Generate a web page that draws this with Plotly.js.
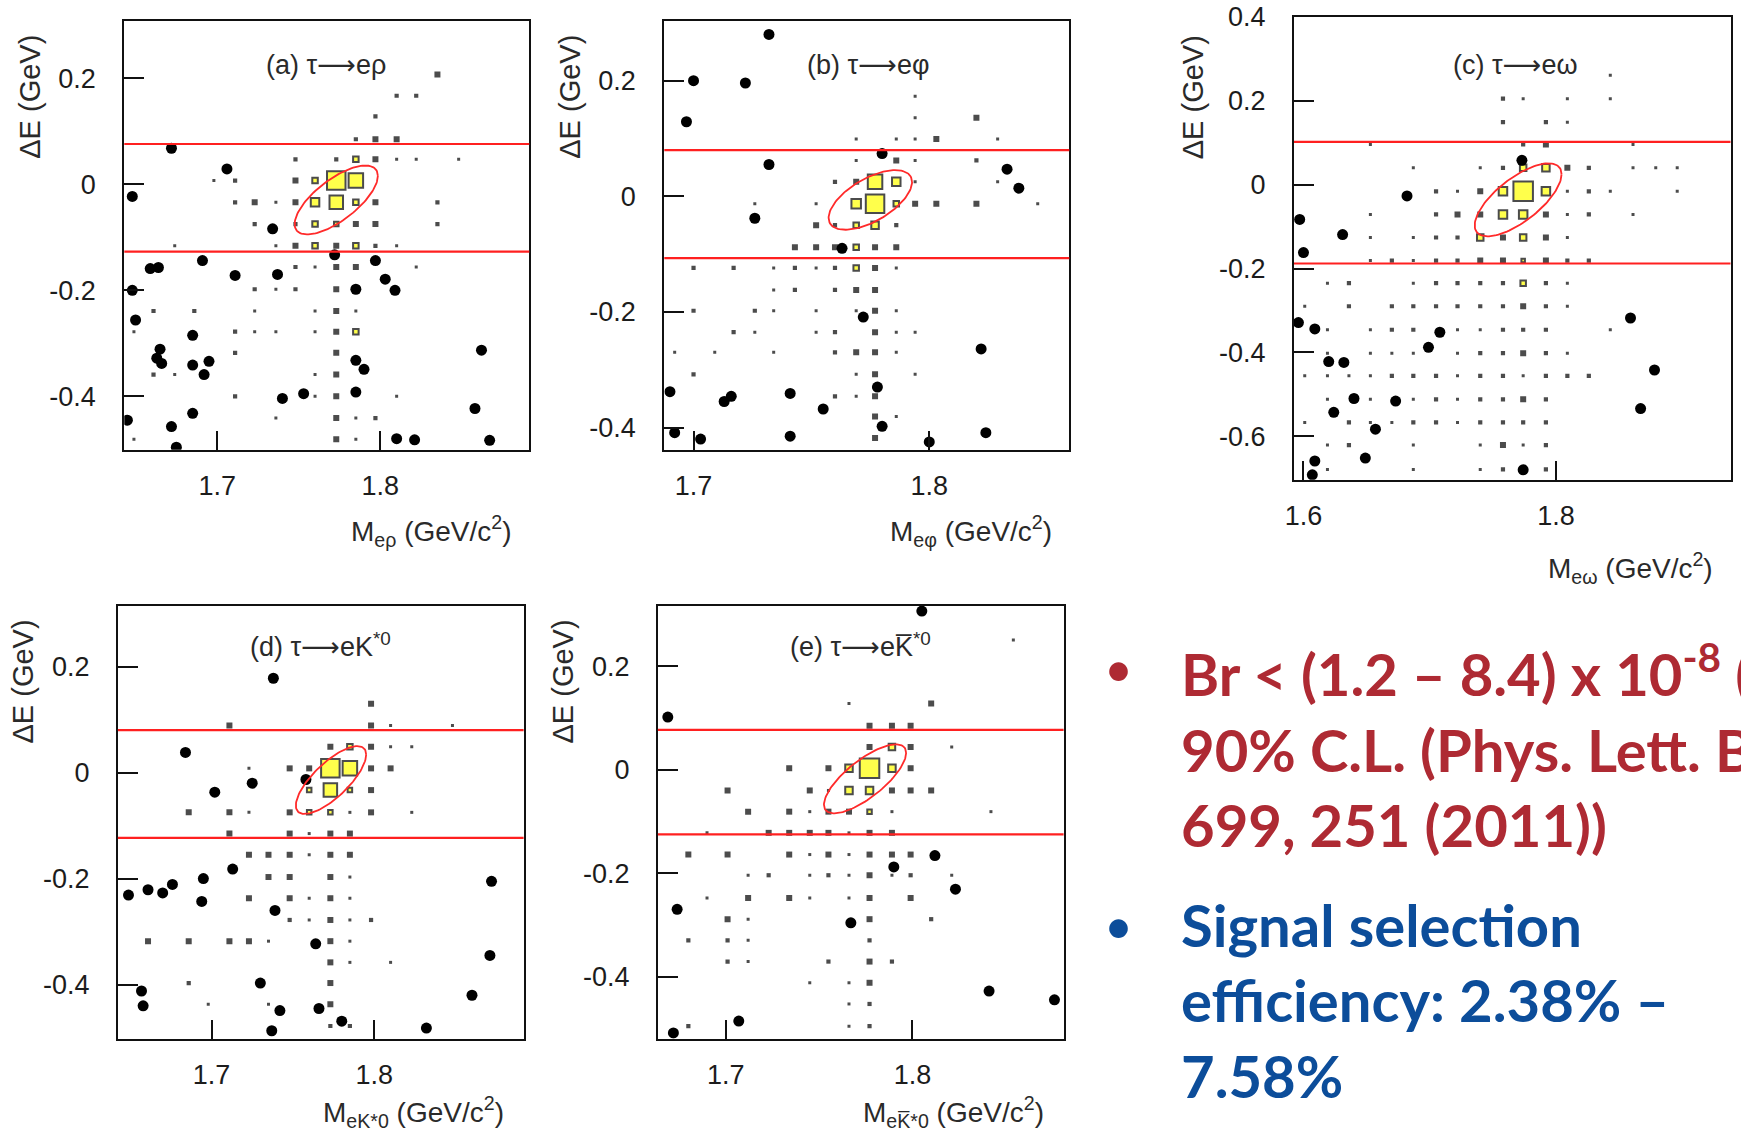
<!DOCTYPE html>
<html><head><meta charset="utf-8">
<script src="https://cdn.plot.ly/plotly-3.0.1.min.js"></script>
<style>html,body{margin:0;padding:0;background:#fff;} #chart{width:1741px;height:1134px;}</style>
</head><body><div id="chart"></div>
<script>
// ---------------- DATA ----------------
const ARW = '<span style="font-family:DejaVu Sans">⟶</span>';
const panelTitles = ['(a) τ' + ARW + 'eρ', '(b) τ' + ARW + 'eφ', '(c) τ' + ARW + 'eω', '(d) τ' + ARW + 'eK<sup>*0</sup>', '(e) τ' + ARW + 'eK\u0305<sup>*0</sup>'];
const xTitles = ['M<sub>eρ</sub> (GeV/c<sup>2</sup>)', 'M<sub>eφ</sub> (GeV/c<sup>2</sup>)', 'M<sub>eω</sub> (GeV/c<sup>2</sup>)',
                 'M<sub>eK*0</sub> (GeV/c<sup>2</sup>)', 'M<sub>eK\u0305*0</sub> (GeV/c<sup>2</sup>)'];
const yTitle = 'ΔE (GeV)';
const xTickVals = [[1.7, 1.8], [1.7, 1.8], [1.6, 1.8], [1.7, 1.8], [1.7, 1.8]];
const yTickVals = [[0.2, 0, -0.2, -0.4], [0.2, 0, -0.2, -0.4], [0.4, 0.2, 0, -0.2, -0.4, -0.6], [0.2, 0, -0.2, -0.4], [0.2, 0, -0.2, -0.4]];
const yTickText = [['0.2', '0', '-0.2', '-0.4'], ['0.2', '0', '-0.2', '-0.4'], ['0.4', '0.2', '0', '-0.2', '-0.4', '-0.6'], ['0.2', '0', '-0.2', '-0.4'], ['0.2', '0', '-0.2', '-0.4']];
const xRanges = [[1.6431, 1.8913], [1.6876, 1.8594], [1.5925, 1.9382], [1.6425, 1.8917], [1.6637, 1.8809]];
const yRanges = [[-0.5007, 0.3086], [-0.4384, 0.3038], [-0.7036, 0.4], [-0.502, 0.3147], [-0.5202, 0.3172]];

// signal-region cuts in ΔE (GeV)
const cutUpper = [0.076, 0.080, 0.102, 0.080, 0.077];
const cutLower = [-0.127, -0.107, -0.188, -0.123, -0.125];

// signal ellipses: centre, half-widths (GeV) and correlation
const ellCx = [1.773, 1.775, 1.770, 1.7734, 1.7746];
const ellCy = [-0.0296, -0.0063, -0.0362, -0.014, -0.0175];
const ellSx = [0.0255, 0.0177, 0.0344, 0.0216, 0.022];
const ellSy = [0.065, 0.0516, 0.0871, 0.064, 0.0667];
const ellRho = [0.70, 0.60, 0.70, 0.75, 0.75];

// background MC boxes [M, ΔE, content class 1..3]
const bgA = [[1.835,0.207,3],[1.810,0.167,2],[1.822,0.167,2],[1.797,0.128,2],[1.785,0.085,2],[1.797,0.085,3],[1.810,0.085,3],
[1.748,0.047,2],[1.773,0.047,2],[1.797,0.047,3],[1.810,0.047,1],[1.822,0.047,1],[1.848,0.047,1],
[1.698,0.007,1],[1.711,0.007,2],[1.748,0.007,3],
[1.711,-0.034,2],[1.723,-0.034,3],[1.736,-0.034,1],[1.748,-0.034,3],[1.797,-0.034,3],[1.835,-0.034,2],
[1.723,-0.075,2],[1.748,-0.075,2],[1.785,-0.075,3],[1.797,-0.075,3],[1.835,-0.075,2],
[1.674,-0.116,1],[1.736,-0.116,1],[1.748,-0.116,3],[1.773,-0.116,3],[1.797,-0.116,2],[1.810,-0.116,1],
[1.748,-0.156,2],[1.760,-0.156,1],[1.773,-0.156,3],[1.785,-0.156,3],[1.822,-0.156,1],
[1.723,-0.198,2],[1.736,-0.198,1],[1.748,-0.198,2],[1.773,-0.198,3],
[1.661,-0.239,2],[1.686,-0.239,2],[1.723,-0.239,1],[1.760,-0.239,1],[1.773,-0.239,3],[1.785,-0.239,1],
[1.649,-0.278,1],[1.711,-0.278,2],[1.723,-0.278,1],[1.736,-0.278,1],[1.760,-0.278,1],[1.773,-0.278,3],
[1.711,-0.318,2],[1.773,-0.318,3],
[1.661,-0.359,2],[1.674,-0.359,1],[1.760,-0.359,1],[1.773,-0.359,3],
[1.711,-0.400,2],[1.760,-0.400,1],[1.773,-0.400,3],[1.810,-0.400,1],
[1.736,-0.441,1],[1.773,-0.441,3],[1.785,-0.441,1],[1.797,-0.441,2],
[1.649,-0.481,1],[1.773,-0.481,3],[1.785,-0.481,1]];
const bgB = [[1.794,0.173,1],[1.794,0.136,1],[1.820,0.136,3],
[1.769,0.099,1],[1.786,0.099,1],[1.794,0.099,1],[1.803,0.099,3],[1.829,0.099,1],
[1.769,0.062,1],[1.786,0.062,3],[1.794,0.062,1],[1.820,0.062,2],
[1.760,0.025,2],[1.769,0.025,3],[1.794,0.025,1],[1.829,0.025,1],
[1.726,-0.013,1],[1.752,-0.013,1],[1.794,-0.013,3],[1.803,-0.013,3],[1.820,-0.013,3],[1.846,-0.013,1],
[1.752,-0.050,3],[1.760,-0.050,2],[1.786,-0.050,2],
[1.743,-0.088,3],[1.752,-0.088,3],[1.760,-0.088,3],[1.777,-0.088,3],[1.786,-0.088,3],
[1.700,-0.124,2],[1.717,-0.124,2],[1.734,-0.124,1],[1.743,-0.124,2],[1.752,-0.124,1],[1.760,-0.124,2],[1.777,-0.124,3],[1.786,-0.124,1],
[1.734,-0.162,1],[1.743,-0.162,2],[1.760,-0.162,2],[1.769,-0.162,3],[1.777,-0.162,3],
[1.700,-0.198,2],[1.726,-0.198,2],[1.734,-0.198,1],[1.752,-0.198,1],[1.769,-0.198,1],[1.777,-0.198,3],[1.786,-0.198,1],
[1.717,-0.235,2],[1.726,-0.235,1],[1.752,-0.235,1],[1.760,-0.235,2],[1.777,-0.235,3],[1.786,-0.235,1],[1.794,-0.235,1],
[1.692,-0.270,1],[1.709,-0.270,1],[1.734,-0.270,1],[1.760,-0.270,2],[1.769,-0.270,3],[1.777,-0.270,3],[1.786,-0.270,1],
[1.700,-0.308,2],[1.769,-0.308,1],[1.777,-0.308,3],[1.794,-0.308,1],
[1.760,-0.346,2],[1.769,-0.346,1],[1.777,-0.346,3],
[1.777,-0.381,3],[1.786,-0.381,1],[1.777,-0.418,3]];
const bgC = [[1.843,0.261,1],
[1.758,0.205,2],[1.774,0.205,1],[1.809,0.205,1],[1.843,0.205,1],
[1.758,0.149,2],[1.792,0.149,2],[1.809,0.149,1],
[1.653,0.096,1],[1.774,0.096,2],[1.792,0.096,3],[1.861,0.096,1],
[1.687,0.040,1],[1.740,0.040,1],[1.758,0.040,2],[1.809,0.040,3],[1.826,0.040,2],[1.861,0.040,1],[1.879,0.040,1],[1.896,0.040,1],
[1.705,-0.016,2],[1.722,-0.016,1],[1.740,-0.016,3],[1.809,-0.016,1],[1.826,-0.016,2],[1.843,-0.016,1],[1.896,-0.016,1],
[1.653,-0.071,1],[1.705,-0.071,2],[1.722,-0.071,3],[1.740,-0.071,3],[1.792,-0.071,3],[1.809,-0.071,1],[1.826,-0.071,2],[1.861,-0.071,1],
[1.653,-0.126,1],[1.687,-0.126,1],[1.705,-0.126,2],[1.722,-0.126,2],[1.758,-0.126,3],[1.792,-0.126,3],[1.809,-0.126,1],
[1.653,-0.181,1],[1.670,-0.181,2],[1.687,-0.181,1],[1.705,-0.181,2],[1.722,-0.181,2],[1.740,-0.181,3],[1.758,-0.181,3],[1.792,-0.181,3],[1.809,-0.181,2],[1.826,-0.181,2],
[1.619,-0.235,1],[1.636,-0.235,2],[1.687,-0.235,1],[1.705,-0.235,2],[1.722,-0.235,2],[1.740,-0.235,2],[1.758,-0.235,2],[1.792,-0.235,2],[1.809,-0.235,1],
[1.601,-0.290,1],[1.636,-0.290,2],[1.670,-0.290,2],[1.687,-0.290,2],[1.705,-0.290,2],[1.722,-0.290,2],[1.740,-0.290,2],[1.758,-0.290,2],[1.774,-0.290,3],[1.792,-0.290,2],[1.809,-0.290,1],
[1.619,-0.346,1],[1.653,-0.346,1],[1.670,-0.346,2],[1.687,-0.346,2],[1.722,-0.346,1],[1.740,-0.346,1],[1.758,-0.346,2],[1.774,-0.346,2],[1.792,-0.346,2],[1.843,-0.346,1],
[1.619,-0.402,1],[1.653,-0.402,1],[1.670,-0.402,1],[1.687,-0.402,1],[1.722,-0.402,1],[1.740,-0.402,2],[1.758,-0.402,2],[1.774,-0.402,3],[1.792,-0.402,2],[1.809,-0.402,1],
[1.601,-0.456,1],[1.619,-0.456,1],[1.636,-0.456,1],[1.653,-0.456,1],[1.670,-0.456,2],[1.687,-0.456,2],[1.705,-0.456,2],[1.722,-0.456,1],[1.740,-0.456,2],[1.758,-0.456,2],[1.774,-0.456,1],[1.792,-0.456,2],[1.809,-0.456,2],[1.826,-0.456,2],
[1.619,-0.512,1],[1.653,-0.512,1],[1.687,-0.512,1],[1.705,-0.512,2],[1.722,-0.512,1],[1.740,-0.512,2],[1.758,-0.512,2],[1.774,-0.512,3],[1.792,-0.512,2],
[1.601,-0.567,1],[1.636,-0.567,2],[1.653,-0.567,1],[1.670,-0.567,1],[1.687,-0.567,2],[1.705,-0.567,2],[1.722,-0.567,1],[1.740,-0.567,2],[1.758,-0.567,2],[1.774,-0.567,2],[1.792,-0.567,2],
[1.619,-0.621,1],[1.636,-0.621,2],[1.687,-0.621,1],[1.740,-0.621,1],[1.758,-0.621,3],[1.774,-0.621,1],[1.792,-0.621,2],
[1.619,-0.679,1],[1.687,-0.679,1],[1.740,-0.679,1],[1.758,-0.679,2],[1.774,-0.679,3],[1.792,-0.679,2]];
const bgD = [[1.798,0.130,3],
[1.711,0.089,3],[1.798,0.089,3],[1.810,0.089,1],[1.848,0.089,1],
[1.773,0.049,3],[1.798,0.049,3],[1.810,0.049,1],[1.823,0.049,1],
[1.723,0.008,1],[1.748,0.008,3],[1.760,0.008,3],[1.798,0.008,3],[1.810,0.008,3],
[1.798,-0.033,3],
[1.686,-0.075,3],[1.711,-0.075,3],[1.723,-0.075,1],[1.748,-0.075,3],[1.785,-0.075,1],[1.798,-0.075,3],[1.823,-0.075,1],
[1.711,-0.115,3],[1.748,-0.115,3],[1.760,-0.115,1],[1.773,-0.115,3],[1.785,-0.115,3],
[1.723,-0.155,3],[1.735,-0.155,3],[1.748,-0.155,3],[1.760,-0.155,1],[1.773,-0.155,3],[1.785,-0.155,3],
[1.735,-0.197,3],[1.748,-0.197,3],[1.773,-0.197,3],[1.785,-0.197,1],
[1.723,-0.237,3],[1.748,-0.237,3],[1.760,-0.237,1],[1.773,-0.237,3],[1.785,-0.237,1],
[1.748,-0.278,2],[1.760,-0.278,1],[1.773,-0.278,3],[1.785,-0.278,1],[1.798,-0.278,2],
[1.661,-0.318,3],[1.686,-0.318,3],[1.711,-0.318,3],[1.723,-0.318,3],[1.735,-0.318,1],[1.773,-0.318,3],[1.785,-0.318,1],
[1.773,-0.358,3],[1.785,-0.358,1],[1.810,-0.358,1],
[1.686,-0.397,2],[1.773,-0.397,3],
[1.698,-0.437,1],[1.735,-0.437,1],[1.773,-0.437,3],
[1.773,-0.478,2],[1.785,-0.478,2]];
const bgE = [[1.854,0.251,1],
[1.766,0.128,1],[1.810,0.128,3],
[1.777,0.085,3],[1.789,0.085,3],[1.799,0.085,3],
[1.777,0.044,3],[1.799,0.044,3],[1.821,0.044,1],
[1.734,0.003,3],[1.755,0.003,3],[1.799,0.003,3],
[1.701,-0.040,3],[1.745,-0.040,3],[1.755,-0.040,1],[1.789,-0.040,3],[1.799,-0.040,3],[1.810,-0.040,3],
[1.712,-0.081,3],[1.734,-0.081,3],[1.745,-0.081,1],[1.755,-0.081,3],[1.766,-0.081,3],[1.789,-0.081,1],[1.842,-0.081,1],
[1.690,-0.122,1],[1.723,-0.122,3],[1.734,-0.122,3],[1.745,-0.122,3],[1.755,-0.122,3],[1.766,-0.122,1],[1.777,-0.122,3],[1.789,-0.122,3],
[1.680,-0.164,3],[1.701,-0.164,3],[1.734,-0.164,3],[1.745,-0.164,1],[1.755,-0.164,3],[1.766,-0.164,1],[1.777,-0.164,3],[1.789,-0.164,3],[1.799,-0.164,3],
[1.712,-0.204,1],[1.723,-0.204,2],[1.745,-0.204,1],[1.755,-0.204,2],[1.766,-0.204,1],[1.777,-0.204,3],[1.789,-0.204,1],[1.799,-0.204,2],[1.821,-0.204,1],
[1.690,-0.248,1],[1.712,-0.248,3],[1.734,-0.248,3],[1.745,-0.248,1],[1.766,-0.248,1],[1.777,-0.248,3],[1.799,-0.248,3],
[1.701,-0.289,3],[1.712,-0.289,1],[1.777,-0.289,3],[1.810,-0.289,2],
[1.680,-0.330,2],[1.701,-0.330,2],[1.712,-0.330,1],[1.777,-0.330,2],
[1.701,-0.371,2],[1.712,-0.371,1],[1.755,-0.371,2],[1.777,-0.371,3],[1.789,-0.371,2],
[1.745,-0.412,1],[1.766,-0.412,1],[1.777,-0.412,3],
[1.766,-0.453,1],[1.777,-0.453,2],
[1.680,-0.496,2],[1.766,-0.496,1],[1.777,-0.496,2]];

// signal MC boxes [M, ΔE, content]
const sigA = [[1.785,0.047,7],[1.760,0.007,7],[1.773,0.007,20],[1.785,0.007,16],[1.760,-0.034,10],[1.773,-0.034,15],[1.785,-0.034,7],
[1.760,-0.075,7],[1.773,-0.075,6],[1.760,-0.116,7],[1.785,-0.116,7],[1.785,-0.278,7]];
const sigB = [[1.777,0.025,16],[1.786,0.025,10],[1.769,-0.013,11],[1.777,-0.013,20],[1.786,-0.013,7],[1.769,-0.050,7],[1.777,-0.050,9],[1.769,-0.088,7],[1.769,-0.124,7]];
const sigC = [[1.774,0.040,8],[1.792,0.040,9],[1.758,-0.016,10],[1.774,-0.016,21],[1.792,-0.016,10],[1.758,-0.071,10],[1.774,-0.071,10],[1.740,-0.126,8],[1.774,-0.126,8],[1.774,-0.181,5],[1.774,-0.235,7]];
const sigD = [[1.785,0.049,7],[1.773,0.008,20],[1.785,0.008,16],[1.760,-0.033,6],[1.773,-0.033,15],[1.785,-0.033,6],[1.760,-0.075,6],[1.773,-0.075,6]];
const sigE = [[1.789,0.044,8],[1.766,0.003,9],[1.777,0.003,21],[1.789,0.003,9],[1.766,-0.040,9],[1.777,-0.040,9],[1.777,-0.081,6]];

// data events [M, ΔE]
const evA = [[1.672,0.068],[1.648,-0.023],[1.706,0.029],[1.734,-0.084],[1.772,-0.133],[1.691,-0.144],[1.659,-0.159],[1.664,-0.157],[1.711,-0.172],[1.737,-0.170],
[1.797,-0.144],[1.803,-0.179],[1.809,-0.200],[1.785,-0.198],[1.648,-0.200],[1.650,-0.256],[1.685,-0.285],[1.665,-0.311],[1.663,-0.328],[1.666,-0.338],
[1.685,-0.341],[1.695,-0.334],[1.692,-0.359],[1.785,-0.332],[1.790,-0.349],[1.862,-0.313],[1.740,-0.404],[1.753,-0.395],[1.785,-0.392],[1.858,-0.423],
[1.685,-0.432],[1.672,-0.457],[1.675,-0.496],[1.645,-0.445],[1.810,-0.480],[1.821,-0.482],[1.867,-0.483]];
const evB = [[1.732,0.280],[1.700,0.200],[1.722,0.196],[1.697,0.129],[1.732,0.055],[1.780,0.074],[1.726,-0.038],[1.763,-0.090],[1.833,0.047],[1.838,0.014],
[1.772,-0.209],[1.822,-0.264],[1.690,-0.338],[1.713,-0.355],[1.716,-0.346],[1.741,-0.341],[1.755,-0.368],[1.778,-0.330],[1.780,-0.398],[1.741,-0.415],
[1.692,-0.409],[1.703,-0.420],[1.824,-0.409],[1.800,-0.425]];
const evC = [[1.773,0.058],[1.682,-0.027],[1.597,-0.083],[1.631,-0.119],[1.600,-0.162],[1.596,-0.329],[1.609,-0.344],[1.708,-0.352],[1.699,-0.388],[1.620,-0.422],
[1.632,-0.424],[1.640,-0.510],[1.673,-0.516],[1.624,-0.543],[1.657,-0.583],[1.649,-0.652],[1.609,-0.659],[1.607,-0.692],[1.774,-0.680],[1.859,-0.318],
[1.878,-0.442],[1.867,-0.534]];
const evD = [[1.738,0.178],[1.684,0.038],[1.725,-0.020],[1.702,-0.037],[1.758,-0.013],[1.713,-0.182],[1.695,-0.200],[1.676,-0.211],[1.670,-0.227],[1.661,-0.221],
[1.649,-0.231],[1.694,-0.243],[1.739,-0.260],[1.764,-0.323],[1.730,-0.397],[1.657,-0.412],[1.658,-0.440],[1.742,-0.449],[1.766,-0.445],[1.780,-0.469],
[1.737,-0.487],[1.832,-0.482],[1.872,-0.205],[1.871,-0.345],[1.860,-0.420]];
const evE = [[1.805,0.307],[1.669,0.102],[1.812,-0.166],[1.790,-0.188],[1.823,-0.231],[1.674,-0.270],[1.767,-0.296],[1.707,-0.486],[1.672,-0.509],[1.841,-0.428],[1.876,-0.445]];

// slide text
const bullet1 = ['Br < (1.2 – 8.4) x 10<sup>-8</sup> (at', '90% C.L. (Phys. Lett. B', '699, 251 (2011))'];
const bullet2 = ['Signal selection', 'efficiency: 2.38% –', '7.58%'];

// ---------------- LAYOUT / DRAWING ----------------
const W = 1741, H = 1134;
const px = x => x / W, py = y => 1 - y / H;
// plot frames in page pixels [left, top, right, bottom]
const frames = [[124.3,20.7,529.3,449.7],[664.3,20.7,1069.3,449.7],[1294,16.9,1730.5,479.7],[117.9,605.8,523.6,1038.7],[657.9,605.8,1063.6,1038.7]];
const titlePos = [[326,64],[867.6,64],[1514.8,64],[320.5,645],[860.5,645]];
const xTitlePos = [[514,531],[1054,531],[1715.4,568],[506.4,1112],[1046.4,1112]];
const yTitlePos = [[30.4,96.4],[570.4,96.4],[1193.3,97],[22,681.5],[562,681.5]];

const bgSets = [bgA, bgB, bgC, bgD, bgE];
const sigSets = [sigA, sigB, sigC, sigD, sigE];
const evSets = [evA, evB, evC, evD, evE];
const bgPx = {1: 3, 2: 4.2, 3: 6};

const chartFont = 'Liberation Sans, Arial, Helvetica, sans-serif';
const textCol = '#1c1c1c';
const traces = [];
const layout = {
  width: W, height: H, margin: {l: 0, r: 0, t: 0, b: 0},
  paper_bgcolor: '#fff', plot_bgcolor: '#fff', showlegend: false,
  shapes: [], annotations: []
};

for (let i = 0; i < 5; i++) {
  const sfx = i === 0 ? '' : String(i + 1);
  const xa = 'x' + sfx, ya = 'y' + sfx;
  const f = frames[i];
  const common = {
    ticks: 'inside', tickwidth: 2, tickcolor: '#111', showline: true, mirror: true,
    linewidth: 2, linecolor: '#111', showgrid: false, zeroline: false, fixedrange: true,
    tickfont: {family: chartFont, size: 27, color: textCol}
  };
  layout['xaxis' + sfx] = Object.assign({}, common, {
    domain: [px(f[0]), px(f[2])], range: xRanges[i], anchor: ya,
    tickvals: xTickVals[i], ticktext: xTickVals[i].map(v => v.toFixed(1)), ticklen: 19, ticklabelstandoff: 11
  });
  layout['yaxis' + sfx] = Object.assign({}, common, {
    domain: [py(f[3]), py(f[1])], range: yRanges[i], anchor: xa,
    tickvals: yTickVals[i], ticktext: yTickText[i], ticklen: 20, ticklabelstandoff: 21
  });

  const bg = bgSets[i];
  traces.push({type: 'scatter', mode: 'markers', xaxis: xa, yaxis: ya, hoverinfo: 'skip',
    x: bg.map(d => d[0]), y: bg.map(d => d[1]),
    marker: {symbol: 'square', color: '#000', size: bg.map(d => bgPx[d[2]]), line: {width: 0}}});
  const sg = sigSets[i];
  traces.push({type: 'scatter', mode: 'markers', xaxis: xa, yaxis: ya, hoverinfo: 'skip',
    x: sg.map(d => d[0]), y: sg.map(d => d[1]),
    marker: {symbol: 'square', color: '#ffff00', size: sg.map(d => d[2] - 1.5), line: {width: 2, color: '#000'}}});
  const ev = evSets[i];
  traces.push({type: 'scatter', mode: 'markers', xaxis: xa, yaxis: ya, hoverinfo: 'skip',
    x: ev.map(d => d[0]), y: ev.map(d => d[1]),
    marker: {symbol: 'circle', color: '#000', size: 11, line: {width: 0}}});

  // signal ellipse
  const ex = [], ey = [];
  const r = ellRho[i], q = Math.sqrt(1 - r * r);
  for (let k = 0; k <= 120; k++) {
    const t = 2 * Math.PI * k / 120;
    ex.push(ellCx[i] + ellSx[i] * Math.cos(t));
    ey.push(ellCy[i] + ellSy[i] * (r * Math.cos(t) + q * Math.sin(t)));
  }
  traces.push({type: 'scatter', mode: 'lines', xaxis: xa, yaxis: ya, hoverinfo: 'skip',
    x: ex, y: ey, line: {color: '#ff2a2a', width: 1.8}});

  // ΔE cut lines
  [cutUpper[i], cutLower[i]].forEach(v => layout.shapes.push({
    type: 'line', xref: xa + ' domain', yref: ya, x0: 0, x1: 1, y0: v, y1: v,
    line: {color: '#ff2020', width: 2.2}, layer: 'above'}));

  layout.annotations.push({xref: 'paper', yref: 'paper', x: px(titlePos[i][0]), y: py(titlePos[i][1]),
    xanchor: 'center', yanchor: 'middle', showarrow: false, text: panelTitles[i],
    font: {family: chartFont, size: 27, color: '#2a2a2a'}});
  layout.annotations.push({xref: 'paper', yref: 'paper', x: px(xTitlePos[i][0]), y: py(xTitlePos[i][1]),
    xanchor: 'right', yanchor: 'middle', showarrow: false, text: xTitles[i],
    font: {family: chartFont, size: 28, color: '#2a2a2a'}});
  layout.annotations.push({xref: 'paper', yref: 'paper', x: px(yTitlePos[i][0]), y: py(yTitlePos[i][1]),
    xanchor: 'center', yanchor: 'middle', showarrow: false, text: yTitle, textangle: -90,
    font: {family: chartFont, size: 29, color: '#2a2a2a'}});
}

// slide bullets
const slideFont = 'Lato, Noto Sans, sans-serif';
const red = '#ae2a33', blue = '#0c4d9a';
layout.annotations.push({xref: 'paper', yref: 'paper', x: px(1118), y: py(668), xanchor: 'center', yanchor: 'middle',
  showarrow: false, text: '•', font: {family: slideFont, size: 50, color: red}});
layout.annotations.push({xref: 'paper', yref: 'paper', x: px(1118), y: py(925), xanchor: 'center', yanchor: 'middle',
  showarrow: false, text: '•', font: {family: slideFont, size: 50, color: blue}});
layout.annotations.push({xref: 'paper', yref: 'paper', x: px(1179), y: py(745), xanchor: 'left', yanchor: 'middle', align: 'left',
  showarrow: false, text: bullet1.join('<br>'), font: {family: slideFont, size: 58, color: red, weight: 'bold'}});
layout.annotations.push({xref: 'paper', yref: 'paper', x: px(1179), y: py(1000), xanchor: 'left', yanchor: 'middle', align: 'left',
  showarrow: false, text: bullet2.join('<br>'), font: {family: slideFont, size: 58, color: blue, weight: 'bold'}});

Plotly.newPlot('chart', traces, layout, {staticPlot: true, displayModeBar: false});
</script></body></html>
